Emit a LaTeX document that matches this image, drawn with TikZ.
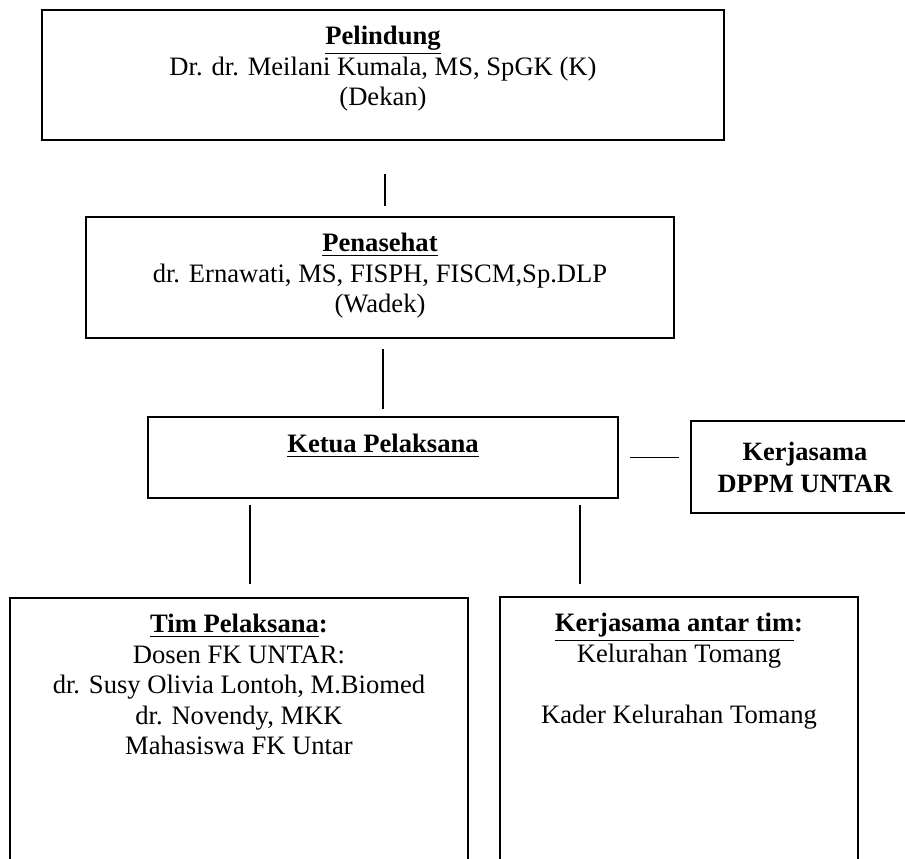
\documentclass[tikz,border=0pt]{standalone}
\usepackage{fontspec}
\setmainfont{Liberation Serif}
\usepackage{xcolor}
\definecolor{ink}{HTML}{000000}
\usepackage{tikz}
\usetikzlibrary{positioning}
\tikzset{
  box/.style   = {rectangle, draw=ink, line width=0.9pt, inner sep=0pt},
  boxtxt/.style = {inner sep=0pt, align=center, font=\fontsize{13.3}{15.2}\selectfont},
  side/.style  = {box, align=center, font=\fontsize{13.2}{16}\selectfont\bfseries},
  link/.style  = {draw=ink, line width=0.8pt}
}

\begin{document}
\begin{tikzpicture}[x=0.5pt, y=-0.5pt]
  \useasboundingbox (0,0) rectangle (905,858);
  % boxes
  \node[box, minimum width=341pt, minimum height=65pt]   (pel)   at (383,75) {};
  \node[box, minimum width=294pt, minimum height=60.5pt] (pen)   at (380,277.5) {};
  \node[box, minimum width=235pt, minimum height=40.5pt] (ketua) at (383,457.5) {};
  \node[side, minimum width=114pt, minimum height=46pt]  (dppm)  at (805,467) {Kerjasama\\DPPM UNTAR};
  \node[box, minimum width=229pt, minimum height=141pt]  (tim)   at (239,739) {};
  \node[box, minimum width=179pt, minimum height=141.5pt] (antar) at (679,738.5) {};
  % texts
  \node[boxtxt, below=8.5pt of pel.north] (pel-t)
    {\underline{\textbf{Pelindung}}\\Dr. dr. Meilani Kumala, MS, SpGK (K)\\(Dekan)};
  \node[boxtxt, below=8.5pt of pen.north] (pen-t)
    {\underline{\textbf{Penasehat}}\\dr. Ernawati, MS, FISPH, FISCM,Sp.DLP\\(Wadek)};
  \node[boxtxt, below=9pt of ketua.north] (ketua-t)
    {\underline{\textbf{Ketua Pelaksana}}};
  \node[boxtxt, below=8.5pt of tim.north] (tim-t)
    {\underline{\textbf{Tim Pelaksana}}\textbf{:}\\Dosen FK UNTAR:\\dr. Susy Olivia Lontoh, M.Biomed\\dr. Novendy, MKK\\Mahasiswa FK Untar};
  \node[boxtxt, below=8.5pt of antar.north] (antar-t)
    {\underline{\textbf{Kerjasama antar tim}}\textbf{:}\\Kelurahan Tomang\\[15.2pt]Kader Kelurahan Tomang};
  % lines
  \draw[link, shorten <=16.5pt, shorten >=5pt] ([xshift=1pt]pel.south) -- ([xshift=1pt]pel.south |- pen.north);
  \draw[link, shorten <=5pt, shorten >=3.5pt] (ketua.north |- pen.south) -- (ketua.north);
  \draw[link, shorten <=5.5pt, shorten >=5.5pt] (ketua.east) -- (ketua.east -| dppm.west);
  \draw[link, shorten <=3pt, shorten >=6.5pt]
    ([xshift=51.5pt]ketua.south west) -- ([xshift=51.5pt]ketua.south west |- tim.north);
  \draw[link, shorten <=3pt, shorten >=6pt]
    ([xshift=-19.5pt]ketua.south east) -- ([xshift=-19.5pt]ketua.south east |- antar.north);
\end{tikzpicture}
\end{document}
